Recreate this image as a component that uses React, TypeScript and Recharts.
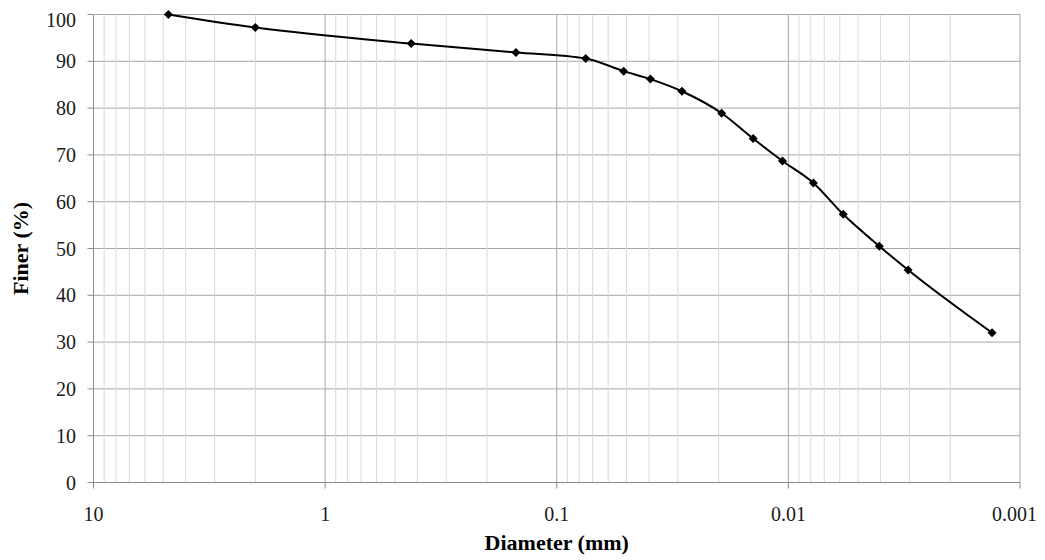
import React from 'react'
import {
  LineChart,
  Line,
  XAxis,
  YAxis,
  CartesianGrid,
  ReferenceLine,
  Label,
} from 'recharts'

// grain size distribution (sieve + hydrometer)
const diameters = [
  4.75, 2.0, 0.425, 0.15, 0.075, 0.0514, 0.0394, 0.0288, 0.0194, 0.0142, 0.0106,
  0.0078, 0.0058, 0.00405, 0.00304, 0.00132,
]
const finer = [
  100, 97.2, 93.8, 91.9, 90.6, 87.9, 86.2, 83.6, 78.9, 73.5, 68.7, 64.0, 57.3,
  50.5, 45.4, 32.0,
]

const xTicks = [10, 1, 0.1, 0.01, 0.001]
const decades = [1, 0.1, 0.01, 0.001]
const minorSteps = [2, 3, 4, 5, 6, 7, 8, 9]
const yTicks = [0, 10, 20, 30, 40, 50, 60, 70, 80, 90, 100]

const minorTicks = decades.flatMap((d) => minorSteps.map((m) => m * d))

const data = diameters.map((d, i) => ({ d, finer: finer[i] }))

const font = '"Liberation Serif", "Times New Roman", serif'

const Diamond = (props: any) => {
  const { cx, cy, index } = props
  const r = 4.5
  return (
    <path
      key={`dot-${index}`}
      d={`M${cx},${cy - r}L${cx + r},${cy}L${cx},${cy + r}L${cx - r},${cy}Z`}
      fill="#000"
    />
  )
}

const App = () => {
  return (
    <div style={{ width: 1029, height: 552 }}>
      <LineChart
        width={1029}
        height={552}
        data={data}
        margin={{ top: 6.5, right: 17, left: 0, bottom: 0 }}
      >
        <CartesianGrid stroke="#a6a6a6" />
        {minorTicks.map((v) => (
          <ReferenceLine key={v} x={v} stroke="#d9d9d9" ifOverflow="hidden" />
        ))}
        <XAxis
          dataKey="d"
          type="number"
          scale="log"
          domain={[0.001, 10]}
          reversed
          ticks={xTicks}
          allowDataOverflow
          height={77.5}
          tickSize={6}
          tickMargin={18.5}
          stroke="#8c8c8c"
          tick={{ fill: '#1a1a1a', fontSize: 20, fontFamily: font }}
          tickFormatter={(v: number) => String(v)}
        >
          <Label
            value="Diameter (mm)"
            position="insideBottom"
            offset={10}
            style={{ fontFamily: font, fontSize: 22, fontWeight: 'bold', fill: '#000' }}
          />
        </XAxis>
        <YAxis
          type="number"
          domain={[0, 100]}
          ticks={yTicks}
          width={85.5}
          tickSize={6}
          tickMargin={11.5}
          stroke="#8c8c8c"
          tick={{ fill: '#1a1a1a', fontSize: 20, fontFamily: font }}
        >
          <Label
            value="Finer (%)"
            angle={-90}
            position="insideLeft"
            offset={12}
            style={{ textAnchor: 'middle', fontFamily: font, fontSize: 22, fontWeight: 'bold', fill: '#000' }}
          />
        </YAxis>
        <Line
          type="monotone"
          dataKey="finer"
          stroke="#000"
          strokeWidth={2}
          dot={Diamond}
          activeDot={false}
          isAnimationActive={false}
        />
      </LineChart>
    </div>
  )
}

export default App
